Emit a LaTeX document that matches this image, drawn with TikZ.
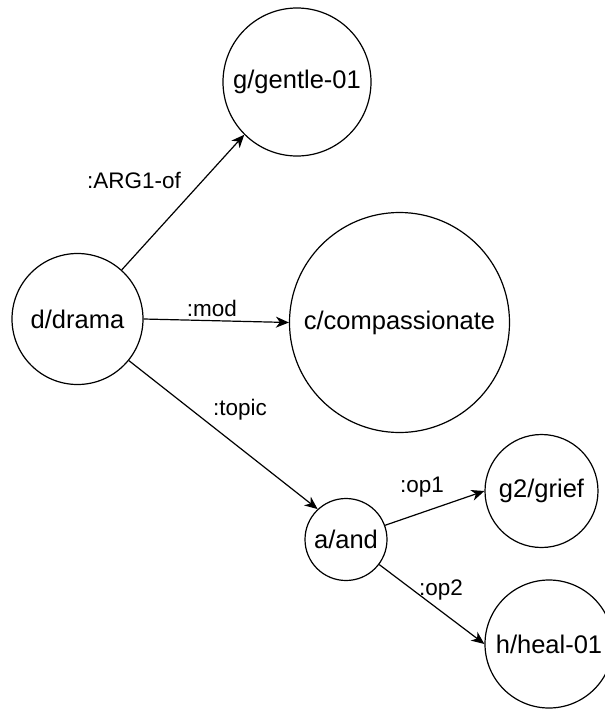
\documentclass[tikz,border=0pt]{standalone}
\usepackage{fontspec}
\setmainfont{Liberation Sans}
\usetikzlibrary{arrows.meta}

\tikzset{
  concept/.style={draw, circle, line width=1.2pt, inner sep=0pt,
    font=\fontsize{25.5}{30}\selectfont},
  role/.style={inner sep=0pt, font=\fontsize{22.5}{26}\selectfont},
  edge/.style={line width=1.2pt, -{Stealth[length=13pt,width=11pt,inset=4pt]}}
}

\begin{document}
\begin{tikzpicture}[x=1pt,y=-1pt]
\useasboundingbox (0,0) rectangle (605,710);
\clip (0,0) rectangle (605,710);

% concepts
\node[concept, minimum size=131pt] (d) at (77.5,319) {d/drama};
\node[concept, minimum size=148pt] (g) at (297,82) {g/gentle-01};
\node[concept, minimum size=220pt] (c) at (399.5,322.5) {c/compassionate};
\node[concept, minimum size=82pt] (a) at (346,539.5) {a/and};
\node[concept, minimum size=113pt] (g2) at (541.5,491) {g2/grief};
\node[concept, minimum size=128pt] (h) at (549,644) {h/heal-01};

% relations
\draw[edge] (d.48) -- (g.225);
\draw[edge] (d.east) -- (c.west);
\draw[edge] (d.-39) -- (a.133);
\draw[edge] (a.20) -- (g2.west);
\draw[edge] (a.-37) -- (h.west);

% role labels
\node[role] (larg) at (134,180) {:ARG1-of};
\node[role] (lmod) at (212,308) {:mod};
\node[role] (ltopic) at (240,410) {:topic};
\node[role] (lop1) at (422,487) {:op1};
\node[role] (lop2) at (441,590) {:op2};

\end{tikzpicture}
\end{document}
